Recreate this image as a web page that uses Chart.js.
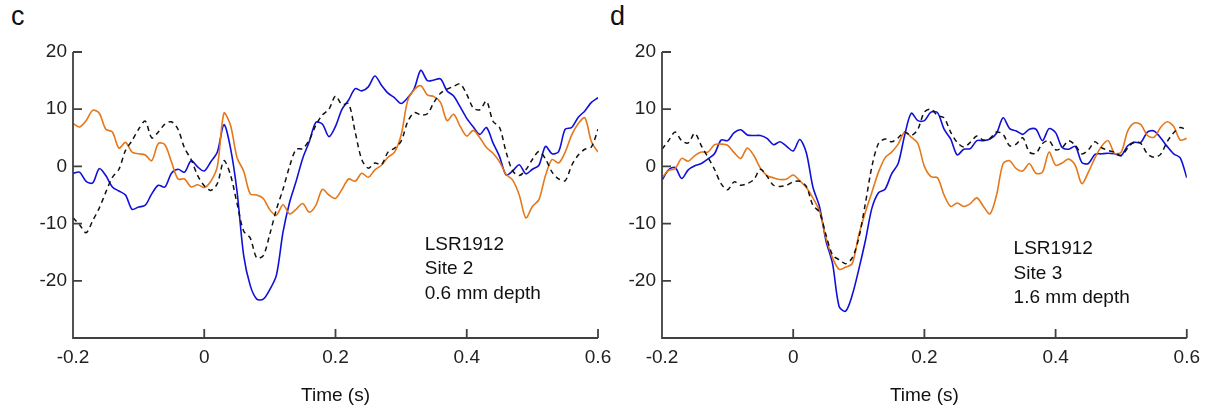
<!DOCTYPE html>
<html>
<head>
<meta charset="utf-8">
<script src="https://cdn.jsdelivr.net/npm/chart.js@4.4.1/dist/chart.umd.min.js"></script>
<style>
  html, body { margin: 0; padding: 0; background: #fff; }
  body { width: 1208px; height: 410px; position: relative; overflow: hidden; font-family: "Liberation Sans", Arial, sans-serif; }
  canvas { position: absolute; top: 0; }
  #chartC { left: 0; }
  #chartD { left: 604px; }
  .panel { position: absolute; top: -2px; font-size: 27px; color: #111; line-height: 36px; }
</style>
</head>
<body>
<div class="panel" style="left:11px">c</div>
<div class="panel" style="left:610px">d</div>
<canvas id="chartC" width="620" height="410"></canvas>
<canvas id="chartD" width="604" height="410"></canvas>
<script>
// Dados: tempo (s), de -0.2 a 0.6 em passos de 10 ms
const time = [];
for (let i = 0; i <= 80; i++) time.push(Math.round((-0.2 + i * 0.01) * 100) / 100);

const xTicks = [-0.2, 0, 0.2, 0.4, 0.6];
const yTicks = [-20, -10, 0, 10, 20];

// painel c - site 2
const cBlue = [-1.2, -1.0, -2.6, -2.9, -0.4, -1.6, -3.6, -4.3, -5.0, -7.5,
  -7.1, -6.8, -4.8, -3.3, -3.6, -1.2, -0.5, -1.0, 1.0, -0.1,
  -0.8, 0.8, 2.5, 7.3, 3.2, -4.4, -15.5, -20.8, -23.2, -23.2,
  -21.5, -19.0, -11.5, -6.3, -2.6, 1.4, 4.3, 7.7, 7.4, 5.2,
  7.0, 10.0, 11.6, 13.6, 13.2, 13.9, 15.8, 14.2, 12.8, 12.0,
  11.0, 12.0, 13.6, 16.8, 15.0, 15.1, 15.3, 13.2, 12.3, 10.4,
  8.4, 6.9, 5.6, 6.8, 4.1, 1.7, -1.5, -0.8, 0.3, -1.3,
  -0.5, 0.2, 3.5, 2.2, 2.6, 6.5, 6.8, 8.6, 9.7, 11.2, 12.0];
const cOrange = [7.5, 6.9, 8.0, 9.8, 9.3, 6.5, 6.0, 3.2, 4.2, 2.5,
  2.2, 2.0, 1.0, 4.0, 3.8, 0.8, -2.2, -2.2, -3.6, -3.2,
  -3.7, -2.6, 0.0, 9.3, 7.2, 1.5, -0.8, -4.8, -5.0, -5.6,
  -7.6, -8.5, -6.7, -8.3, -7.5, -6.5, -8.0, -6.8, -4.0, -5.0,
  -5.6, -4.0, -2.2, -2.6, -1.2, -1.9, -0.6, 0.2, 1.6, 2.5,
  5.5, 11.5, 13.4, 14.1, 12.5, 12.2, 11.2, 8.0, 9.1, 7.0,
  5.3, 6.3, 5.0, 3.3, 2.3, 0.8, -1.4, -2.4, -5.0, -9.0,
  -7.0, -5.8, -1.6, 1.2, 0.6, 2.5, 5.5, 7.5, 8.5, 4.3, 2.5];
const cBlack = [-9.0, -10.2, -11.6, -9.5, -7.3, -4.5, -1.9, -0.5, 2.8, 4.5,
  6.5, 7.9, 5.0, 6.0, 7.4, 7.8, 6.5, 3.2, 1.2, -1.6,
  -3.4, -4.2, -3.0, 1.0, -1.5, -6.5, -11.3, -12.5, -16.0, -15.6,
  -11.8, -7.5, -4.0, 0.0, 3.0, 3.1, 4.6, 7.2, 9.0, 10.0,
  12.3, 10.8, 11.0, 6.0, 1.2, -0.3, 0.6, 0.3, 2.5, 3.2,
  4.4, 7.8, 9.4, 9.0, 9.2, 11.2, 12.8, 13.5, 14.0, 14.4,
  12.6, 10.2, 9.9, 11.4, 7.9, 6.8, 2.5, -0.8, -1.6, -0.6,
  1.2, 2.6, 1.3, -1.0, -2.2, -2.5, 0.2, 2.0, 3.0, 3.4, 6.5];

// painel d - site 3
const dBlue = [-2.4, -0.6, -0.2, -2.1, -0.6, 0.1, 0.5, 1.3, 2.2, 4.6,
  4.5, 5.9, 6.4, 5.5, 5.4, 5.4, 4.9, 3.8, 4.3, 3.5,
  2.7, 4.7, 2.4, -3.6, -7.0, -13.0, -17.0, -24.5, -25.3, -22.5,
  -18.0, -13.0, -7.3, -4.6, -4.0, -1.3, 0.5, 5.5, 9.3, 8.0,
  8.0, 9.5, 9.4, 6.5, 4.8, 2.0, 3.0, 3.1, 4.5, 4.5,
  4.8, 5.8, 8.5, 6.6, 6.2, 5.6, 6.5, 6.5, 4.5, 6.6,
  5.9, 3.3, 3.0, 3.5, 0.7, 0.5, 2.1, 2.2, 2.3, 2.2,
  1.9, 3.6, 4.2, 4.2, 6.0, 6.2, 5.0, 3.5, 2.2, 1.5, -2.0];
const dOrange = [-2.0, -0.7, -0.4, 1.4, 0.9, 1.9, 2.5, 2.5, 3.8, 3.9,
  3.7, 2.4, 1.4, 3.2, 1.9, -0.3, -1.6, -2.0, -2.3, -2.2,
  -1.5, -2.5, -3.7, -5.5, -7.8, -12.5, -16.0, -18.0, -17.6, -17.0,
  -12.0, -8.0, -4.5, -1.0, 1.5, 2.5, 3.9, 6.0, 5.1, 4.0,
  0.0, -1.8, -2.0, -5.0, -7.0, -6.4, -7.0, -6.5, -5.5, -7.0,
  -8.3, -5.0, 0.5, 1.0, -0.4, -0.8, 0.5, -1.2, -1.0, 2.5,
  0.2, 0.6, 1.3, 0.2, -3.0, -1.0, 1.5, 3.5, 4.5, 2.3,
  2.5, 6.2, 7.6, 7.3, 5.4, 5.1, 6.8, 7.8, 7.0, 4.6, 4.9];
const dBlack = [3.0, 4.5, 6.0, 4.5, 4.1, 5.8, 3.6, 1.6, -0.5, -3.0,
  -4.1, -2.7, -3.3, -3.0, -2.3, -0.5, -1.7, -3.3, -3.5, -3.3,
  -2.7, -2.6, -3.5, -6.8, -8.0, -12.0, -15.5, -16.3, -17.0, -16.0,
  -12.5, -6.5, 0.0, 4.0, 4.8, 4.3, 5.0, 6.0, 5.4, 6.5,
  9.5, 10.0, 8.9, 8.5, 6.0, 4.2, 3.4, 4.2, 5.3, 4.6,
  4.9, 6.0, 5.6, 3.6, 3.9, 5.0, 2.5, 2.3, 4.0, 4.5,
  2.9, 3.3, 4.5, 3.7, 2.2, 2.9, 4.3, 3.3, 2.8, 2.5,
  1.9, 3.2, 4.3, 4.0, 2.2, 1.6, 2.1, 4.3, 5.9, 6.8, 6.3];

const noteC = ['LSR1912', 'Site 2', '0.6 mm depth'];
const noteD = ['LSR1912', 'Site 3', '1.6 mm depth'];

const BLUE = '#1010d8';
const ORANGE = '#e5781a';
const AXIS = '#404040';
const TEXT = '#222';

Chart.defaults.font.family = '"Liberation Sans", Arial, sans-serif';
Chart.defaults.font.size = 19;
Chart.defaults.color = TEXT;

function pts(arr) {
  return time.map((t, i) => ({ x: t, y: arr[i] }));
}

// eixos com ticks para dentro + anotação
const frame = {
  id: 'frame',
  afterDraw(chart, args, opts) {
    const { ctx, chartArea: a, scales: { x, y } } = chart;
    ctx.save();
    ctx.strokeStyle = AXIS;
    ctx.lineWidth = 1.8;
    ctx.beginPath();
    ctx.moveTo(a.left, y.getPixelForValue(20));
    ctx.lineTo(a.left, a.bottom);
    ctx.lineTo(a.right, a.bottom);
    xTicks.forEach(v => {
      const px = x.getPixelForValue(v);
      ctx.moveTo(px, a.bottom);
      ctx.lineTo(px, a.bottom - 9);
    });
    yTicks.forEach(v => {
      const py = y.getPixelForValue(v);
      ctx.moveTo(a.left, py);
      ctx.lineTo(a.left + 9, py);
    });
    ctx.stroke();

    ctx.fillStyle = '#111';
    ctx.font = '19px "Liberation Sans", Arial, sans-serif';
    ctx.textBaseline = 'middle';
    ctx.textAlign = 'left';
    opts.lines.forEach((s, i) => {
      ctx.fillText(s, x.getPixelForValue(opts.x), y.getPixelForValue(opts.y) + i * 24.5);
    });
    ctx.restore();
  }
};

function makeChart(id, blue, orange, black, note, noteY, yWidth, padRight) {
  return new Chart(document.getElementById(id), {
    type: 'line',
    data: {
      datasets: [
        { data: pts(black), borderColor: '#111', borderDash: [5, 4], borderWidth: 1.5 },
        { data: pts(orange), borderColor: ORANGE, borderWidth: 1.6 },
        { data: pts(blue), borderColor: BLUE, borderWidth: 1.6 }
      ]
    },
    options: {
      responsive: false,
      animation: false,
      layout: { padding: { top: 52, right: padRight, bottom: 0, left: 0 } },
      elements: { point: { radius: 0 }, line: { tension: 0.3 } },
      plugins: {
        legend: { display: false },
        tooltip: { enabled: false },
        frame: { lines: note, x: 0.336, y: noteY }
      },
      scales: {
        x: {
          type: 'linear', min: -0.2, max: 0.6,
          afterBuildTicks: s => { s.ticks = xTicks.map(v => ({ value: v })); },
          afterFit: s => { s.height = 72; },
          grid: { display: false, drawTicks: false },
          border: { display: false },
          ticks: { padding: 8, maxRotation: 0, autoSkip: false, callback: v => String(Math.round(v * 10) / 10) },
          title: { display: true, text: 'Time (s)', color: '#111', padding: { top: 0, bottom: 3 } }
        },
        y: {
          min: -30, max: 20,
          afterBuildTicks: s => { s.ticks = yTicks.map(v => ({ value: v })); },
          afterFit: s => { s.width = yWidth; },
          grid: { display: false, drawTicks: false },
          border: { display: false },
          ticks: { padding: 6, callback: v => String(v) }
        }
      }
    },
    plugins: [frame]
  });
}

makeChart('chartC', cBlue, cOrange, cBlack, noteC, -13.7, 73, 22);
makeChart('chartD', dBlue, dOrange, dBlack, noteD, -14.4, 58, 20);
</script>
</body>
</html>
